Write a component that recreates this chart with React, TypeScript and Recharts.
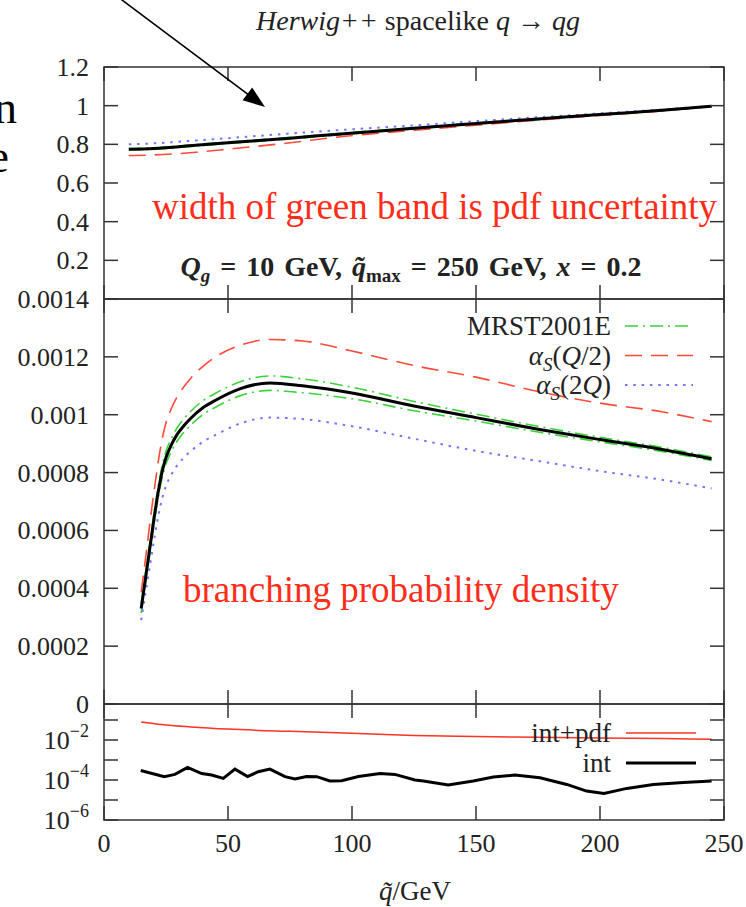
import React from "react";
import { LineChart, Line, XAxis, YAxis, ReferenceArea, Legend } from "recharts";

const SERIF = "'Liberation Serif', 'Times New Roman', serif";
const FRAME = "#333333";
const INK = "#222222";
const RED_TEXT = "#ff2d1a";
const TICK = 14;
const PLOT_LEFT = 104;
const PLOT_RIGHT = 724;
const CHART_W = 746;
const PAD = 20;

// panel placement on the page (plot area top / height)
const P1_TOP = 67;
const P1_H = 232;
const P2_TOP = 299;
const P2_H = 405;
const P3_TOP = 704;
const P3_H = 116;

// x axis shared by all panels
const xTicks = [0, 50, 100, 150, 200, 250];

// top panel: ratio curves
const ratioX = [10, 20, 37, 50, 75, 93, 125, 150, 175, 200, 225, 245];
const ratioCentral = [0.774, 0.778, 0.795, 0.808, 0.832, 0.851, 0.883, 0.908, 0.931, 0.954, 0.976, 0.997];
const ratioPdfUp = [0.778, 0.782, 0.799, 0.812, 0.836, 0.855, 0.886, 0.911, 0.934, 0.956, 0.978, 0.998];
const ratioPdfDown = [0.77, 0.774, 0.791, 0.804, 0.828, 0.847, 0.88, 0.905, 0.928, 0.952, 0.974, 0.996];
const ratioHalf = [0.742, 0.745, 0.759, 0.775, 0.808, 0.836, 0.873, 0.899, 0.925, 0.949, 0.973, 0.996];
const ratioTwice = [0.8, 0.805, 0.82, 0.832, 0.856, 0.872, 0.898, 0.92, 0.94, 0.96, 0.98, 0.998];
const ratioTicks = [0.2, 0.4, 0.6, 0.8, 1, 1.2];

// middle panel: branching probability density
const densX = [15, 17, 19, 20.5, 22, 23.5, 25, 27, 29.5, 32, 35, 40, 45, 55, 67, 80, 100, 125, 150, 175, 200, 225, 245];
const densCentral = [0.00033, 0.00045, 0.00057, 0.00066, 0.00074, 0.000805, 0.000852, 0.000893, 0.000932, 0.00096, 0.000988, 0.001025, 0.00105, 0.00109, 0.00111, 0.0011, 0.001075, 0.00103, 0.00099, 0.00095, 0.000914, 0.00088, 0.000848];
const densPdfUp = [0.00035, 0.00047, 0.00059, 0.00068, 0.00076, 0.000826, 0.000874, 0.000915, 0.000955, 0.000984, 0.001012, 0.001049, 0.001074, 0.001114, 0.001134, 0.001124, 0.001095, 0.001046, 0.001002, 0.00096, 0.000922, 0.000887, 0.000854];
const densPdfDown = [0.000314, 0.000432, 0.00055, 0.00064, 0.00072, 0.000784, 0.00083, 0.00087, 0.000909, 0.000937, 0.000964, 0.001001, 0.001026, 0.001066, 0.001084, 0.001076, 0.001055, 0.001014, 0.000978, 0.00094, 0.000906, 0.000873, 0.000842];
const densHalf = [0.000386, 0.00052, 0.00066, 0.000755, 0.000845, 0.000918, 0.000972, 0.001018, 0.001062, 0.001094, 0.001126, 0.001168, 0.0012, 0.00124, 0.00126, 0.001255, 0.00122, 0.00117, 0.00113, 0.00108, 0.00104, 0.00101, 0.000976];
const densTwice = [0.00029, 0.000398, 0.000504, 0.000584, 0.000655, 0.000712, 0.000754, 0.00079, 0.000825, 0.00085, 0.000874, 0.000907, 0.00093, 0.00097, 0.00099, 0.000985, 0.00096, 0.000917, 0.000875, 0.00084, 0.000805, 0.000775, 0.000745];
const densTicks = [0, 0.0002, 0.0004, 0.0006, 0.0008, 0.001, 0.0012, 0.0014];

// bottom panel: relative errors (log scale)
const errPdfX = [15, 20, 25, 35, 50, 75, 100, 125, 150, 175, 200, 225, 245];
const errPdf = [0.079, 0.066, 0.056, 0.045, 0.035, 0.027, 0.022, 0.017, 0.015, 0.0137, 0.0126, 0.0118, 0.011];
const errIntX = [14.8, 24.3, 28.6, 33.7, 39.4, 43.4, 48.1, 52.8, 57.9, 62.2, 66.9, 73, 77, 81.7, 85.8, 91.1, 95.8, 102.6, 111.3, 117.3, 125.4, 128.8, 138.8, 148.9, 157, 165.7, 175.8, 186.6, 194.6, 201.6, 210.8, 221.5, 233.6, 245];
const errInt = [3.0e-4, 1.47e-4, 1.9e-4, 4.3e-4, 2.1e-4, 1.78e-4, 1.2e-4, 3.5e-4, 1.47e-4, 2.6e-4, 3.5e-4, 1.47e-4, 1.12e-4, 1.5e-4, 1.47e-4, 8.9e-5, 9.3e-5, 1.5e-4, 2.1e-4, 1.9e-4, 1.0e-4, 8.9e-5, 5.6e-5, 8.9e-5, 1.4e-4, 1.78e-4, 1.3e-4, 6e-5, 2.8e-5, 2.1e-5, 3.8e-5, 6e-5, 7.6e-5, 8.9e-5];
const errTicks = [1e-6, 1e-5, 1e-4, 1e-3, 1e-2, 1e-1];
const errDomain = [1e-6, 0.631];

const ratioData = ratioX.map((x, i) => ({
  x,
  central: ratioCentral[i],
  up: ratioPdfUp[i],
  down: ratioPdfDown[i],
  half: ratioHalf[i],
  twice: ratioTwice[i],
}));
const densData = densX.map((x, i) => ({
  x,
  central: densCentral[i],
  up: densPdfUp[i],
  down: densPdfDown[i],
  half: densHalf[i],
  twice: densTwice[i],
}));
const errPdfData = errPdfX.map((x, i) => ({ x, v: errPdf[i] }));
const errIntData = errIntX.map((x, i) => ({ x, v: errInt[i] }));

const STYLE = {
  central: { stroke: "#000000", strokeWidth: 3 },
  pdf: { stroke: "#3ad43a", strokeWidth: 1.6, strokeDasharray: "13 5 2 5" },
  half: { stroke: "#ff4a3a", strokeWidth: 1.6, strokeDasharray: "17 9" },
  twice: { stroke: "#7474ff", strokeWidth: 2, strokeDasharray: "2.5 5.8" },
  errPdf: { stroke: "#ff3322", strokeWidth: 1.5 },
  errInt: { stroke: "#000000", strokeWidth: 3 },
};

function makeXTick(top: number, bottom: number, withLabel: boolean) {
  return (props: any) => {
    const { x, payload } = props;
    return (
      <g>
        <line x1={x} x2={x} y1={top} y2={top + TICK} stroke={FRAME} strokeWidth={1.5} />
        <line x1={x} x2={x} y1={bottom - TICK} y2={bottom} stroke={FRAME} strokeWidth={1.5} />
        {withLabel && (
          <text x={x} y={bottom + 32} textAnchor="middle" fontFamily={SERIF} fontSize={26} fill={INK}>
            {payload.value}
          </text>
        )}
      </g>
    );
  };
}

function makeYTick(fmt: (v: number) => React.ReactNode) {
  return (props: any) => {
    const { y, payload } = props;
    const label = fmt(payload.value);
    return (
      <g>
        <line x1={PLOT_LEFT} x2={PLOT_LEFT + TICK} y1={y} y2={y} stroke={FRAME} strokeWidth={1.5} />
        <line x1={PLOT_RIGHT - TICK} x2={PLOT_RIGHT} y1={y} y2={y} stroke={FRAME} strokeWidth={1.5} />
        {label != null && (
          <text x={PLOT_LEFT - 15} y={y + 9} textAnchor="end" fontFamily={SERIF} fontSize={26} fill={INK}>
            {label}
          </text>
        )}
      </g>
    );
  };
}

const fmtRatio = (v: number) => String(Number(v.toFixed(1)));
const fmtDens = (v: number) => String(Number(v.toFixed(4)));
const fmtLog = (v: number) => {
  const e = Math.round(Math.log10(v));
  if (e % 2 !== 0) return null;
  return (
    <>
      <tspan>10</tspan>
      <tspan fontSize={18} dy={-12}>{`\u2212${-e}`}</tspan>
    </>
  );
};

type LegendItem = { label: React.ReactNode; style: any };

function makeLegend(items: LegendItem[], gap: number, textEnd: number, l1: number, l2: number) {
  return () => (
    <svg width={290} height={items.length * gap + 20} style={{ overflow: "visible", display: "block" }}>
      {items.map((it, i) => {
        const y = 16 + i * gap;
        return (
          <g key={i}>
            <text x={textEnd} y={y + 9} textAnchor="end" fontFamily={SERIF} fontSize={27} fill={INK}>
              {it.label}
            </text>
            <line x1={l1} x2={l2} y1={y} y2={y} {...it.style} />
          </g>
        );
      })}
    </svg>
  );
}

const alphaS = (arg: React.ReactNode) => (
  <>
    <tspan fontStyle="italic">α</tspan>
    <tspan fontStyle="italic" fontSize={19} dy={6}>S</tspan>
    <tspan dy={-6}>(</tspan>
    {arg}
    <tspan>)</tspan>
  </>
);

const densLegend: LegendItem[] = [
  { label: "MRST2001E", style: STYLE.pdf },
  { label: alphaS(<><tspan fontStyle="italic">Q</tspan><tspan>/2</tspan></>), style: STYLE.half },
  { label: alphaS(<><tspan>2</tspan><tspan fontStyle="italic">Q</tspan></>), style: STYLE.twice },
];
const errLegend: LegendItem[] = [
  { label: "int+pdf", style: STYLE.errPdf },
  { label: "int", style: STYLE.errInt },
];

const margin = { top: PAD, right: CHART_W - PLOT_RIGHT, bottom: 0, left: 4 };

export default function App() {
  return (
    <div style={{ position: "absolute", left: 0, top: 0, width: 746, height: 907, background: "#fff", overflow: "hidden" }}>
      {/* top panel */}
      <div style={{ position: "absolute", left: 0, top: P1_TOP - PAD }}>
        <LineChart width={CHART_W} height={PAD + P1_H + 20} data={ratioData} margin={margin}>
          <XAxis dataKey="x" type="number" domain={[0, 250]} ticks={xTicks} interval={0} allowDataOverflow
            height={20} axisLine={false} tickLine={false} tick={makeXTick(PAD, PAD + P1_H, false)} />
          <YAxis type="number" domain={[0, 1.2]} ticks={ratioTicks} interval={0} allowDataOverflow
            width={100} axisLine={false} tickLine={false} tick={makeYTick(fmtRatio)} />
          <Line type="monotone" dataKey="up" dot={false} isAnimationActive={false} {...STYLE.pdf} />
          <Line type="monotone" dataKey="down" dot={false} isAnimationActive={false} {...STYLE.pdf} />
          <Line type="monotone" dataKey="half" dot={false} isAnimationActive={false} {...STYLE.half} />
          <Line type="monotone" dataKey="twice" dot={false} isAnimationActive={false} {...STYLE.twice} />
          <Line type="monotone" dataKey="central" dot={false} isAnimationActive={false} {...STYLE.central} />
          <ReferenceArea x1={0} x2={250} y1={0} y2={1.2} fill="none" stroke={FRAME} strokeWidth={1.5} />
        </LineChart>
      </div>

      {/* middle panel */}
      <div style={{ position: "absolute", left: 0, top: P2_TOP - PAD }}>
        <LineChart width={CHART_W} height={PAD + P2_H + 20} data={densData} margin={margin}>
          <XAxis dataKey="x" type="number" domain={[0, 250]} ticks={xTicks} interval={0} allowDataOverflow
            height={20} axisLine={false} tickLine={false} tick={makeXTick(PAD, PAD + P2_H, false)} />
          <YAxis type="number" domain={[0, 0.0014]} ticks={densTicks} interval={0} allowDataOverflow
            width={100} axisLine={false} tickLine={false} tick={makeYTick(fmtDens)} />
          <Line type="monotone" dataKey="up" dot={false} isAnimationActive={false} {...STYLE.pdf} />
          <Line type="monotone" dataKey="down" dot={false} isAnimationActive={false} {...STYLE.pdf} />
          <Line type="monotone" dataKey="half" dot={false} isAnimationActive={false} {...STYLE.half} />
          <Line type="monotone" dataKey="twice" dot={false} isAnimationActive={false} {...STYLE.twice} />
          <Line type="monotone" dataKey="central" dot={false} isAnimationActive={false} {...STYLE.central} />
          <ReferenceArea x1={0} x2={250} y1={0} y2={0.0014} fill="none" stroke={FRAME} strokeWidth={1.5} />
          <Legend layout="vertical" align="center" verticalAlign="middle"
            wrapperStyle={{ left: 440, top: 31, width: 290 }}
            content={makeLegend(densLegend, 29.5, 171, 185, 253)} />
        </LineChart>
      </div>

      {/* bottom panel */}
      <div style={{ position: "absolute", left: 0, top: P3_TOP - PAD }}>
        <LineChart width={CHART_W} height={PAD + P3_H + 60} margin={margin}>
          <XAxis dataKey="x" type="number" domain={[0, 250]} ticks={xTicks} interval={0} allowDataOverflow
            height={60} axisLine={false} tickLine={false} tick={makeXTick(PAD, PAD + P3_H, true)} />
          <YAxis type="number" scale="log" domain={errDomain} ticks={errTicks} interval={0} allowDataOverflow
            width={100} axisLine={false} tickLine={false} tick={makeYTick(fmtLog)} />
          <Line data={errPdfData} type="monotone" dataKey="v" dot={false} isAnimationActive={false} {...STYLE.errPdf} />
          <Line data={errIntData} type="linear" dataKey="v" dot={false} isAnimationActive={false} {...STYLE.errInt} />
          <ReferenceArea x1={0} x2={250} y1={errDomain[0]} y2={errDomain[1]} fill="none" stroke={FRAME} strokeWidth={1.5} />
          <Legend layout="vertical" align="center" verticalAlign="middle"
            wrapperStyle={{ left: 440, top: 33, width: 290 }}
            content={makeLegend(errLegend, 30, 171, 186, 256)} />
        </LineChart>
      </div>

      {/* annotations */}
      <svg width={746} height={907} fontFamily={SERIF}
        style={{ position: "absolute", left: 0, top: 0, pointerEvents: "none" }}>
        <text x={418} y={30} textAnchor="middle" fontSize={28} fill={INK}>
          <tspan fontStyle="italic">Herwig++</tspan> spacelike <tspan fontStyle="italic">q</tspan> → <tspan fontStyle="italic">qg</tspan>
        </text>
        <line x1={119.3} y1={-2} x2={248} y2={94.3} stroke="#000" strokeWidth={1.6} />
        <polygon points="265,107 242.6,100.2 252.2,87.4" fill="#000" />
        <text x={17} y={123} textAnchor="end" fontSize={46} fill="#000">n</text>
        <text x={9} y={172} textAnchor="end" fontSize={46} fill="#000">e</text>
        <text x={152} y={219} fontSize={37} fill={RED_TEXT}>width of green band is pdf uncertainty</text>
        <text x={411} y={276} textAnchor="middle" fontSize={28} fontWeight="bold" wordSpacing={3} fill={INK}>
          <tspan fontStyle="italic">Q</tspan>
          <tspan fontStyle="italic" fontSize={19} dy={6}>g</tspan>
          <tspan dy={-6}> = 10 GeV, </tspan>
          <tspan fontStyle="italic">q̃</tspan>
          <tspan fontSize={19} dy={6}>max</tspan>
          <tspan dy={-6}> = 250 GeV, </tspan>
          <tspan fontStyle="italic">x</tspan>
          <tspan> = 0.2</tspan>
        </text>
        <text x={183} y={602} fontSize={37} fill={RED_TEXT}>branching probability density</text>
        <text x={415} y={900} textAnchor="middle" fontSize={27} fill={INK}>
          <tspan fontStyle="italic">q̃</tspan>/GeV
        </text>
      </svg>
    </div>
  );
}
